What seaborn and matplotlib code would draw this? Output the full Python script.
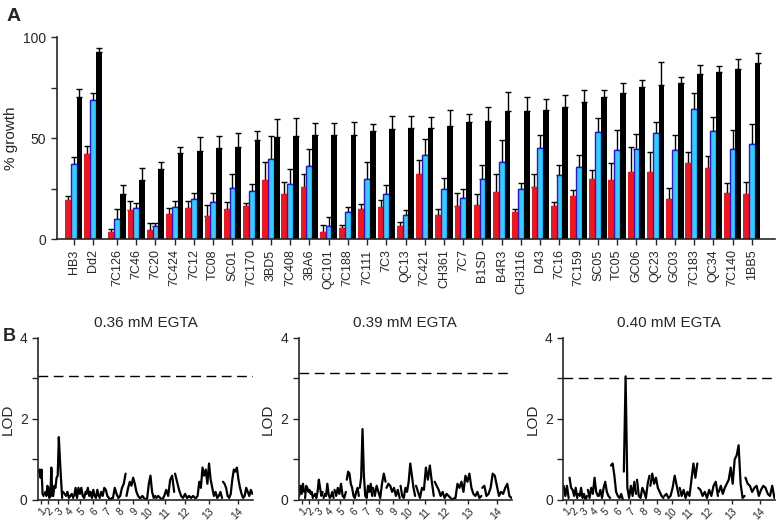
import matplotlib
matplotlib.use("Agg")
import matplotlib.pyplot as plt
import seaborn as sns
import pandas as pd
import numpy as np

sns.set_style("ticks")
plt.rcParams["font.family"] = ["Liberation Sans", "DejaVu Sans"]

# ---- Panel A data: % growth at three EGTA levels ----
strains = ["HB3", "Dd2", "7C126", "7C46", "7C20", "7C424", "7C12", "TC08", "SC01",
           "7C170", "3BD5", "7C408", "3BA6", "QC101", "7C188", "7C111", "7C3", "QC13",
           "7C421", "CH361", "7C7", "B1SD", "B4R3", "CH3116", "D43", "7C16", "7C159",
           "SC05", "TC05", "GC06", "QC23", "GC03", "7C183", "QC34", "7C140", "1BB5"]
red = [19.3, 41.9, 3.6, 14.4, 4.5, 12.4, 15.5, 11.4, 14.7, 16.3, 29.2, 22.1, 25.6, 3.5,
       5.6, 14.7, 15.7, 6.4, 32.2, 12.0, 16.2, 16.8, 23.3, 13.5, 25.7, 16.3, 21.1, 29.7,
       29.2, 33.0, 33.2, 20.0, 37.5, 35.0, 22.6, 22.3]
red_err = [2.0, 4.1, 1.2, 4.4, 3.3, 2.8, 3.5, 5.4, 3.6, 1.7, 9.1, 6.3, 6.6, 3.4, 1.2, 2.6,
           3.6, 1.9, 6.9, 2.7, 6.4, 5.5, 8.7, 1.5, 6.3, 2.0, 3.3, 4.5, 8.3, 12.7, 10.0,
           5.1, 5.6, 6.3, 5.0, 6.1]
blue = [37.1, 68.8, 9.7, 15.2, 6.4, 16.0, 19.6, 18.3, 25.4, 23.9, 39.4, 27.1, 36.3, 6.4,
        13.4, 29.7, 22.1, 11.7, 41.4, 24.6, 20.3, 29.7, 38.1, 24.6, 44.9, 31.5, 35.8,
        52.8, 44.1, 44.7, 52.3, 43.9, 64.2, 53.5, 44.7, 46.9]
blue_err = [3.7, 3.6, 5.0, 2.8, 1.7, 2.8, 3.0, 4.3, 6.8, 3.2, 11.6, 7.6, 8.4, 4.3, 2.6,
            8.6, 4.6, 2.7, 8.3, 5.4, 4.6, 7.1, 10.7, 3.0, 6.4, 5.3, 5.8, 7.3, 9.9, 7.3,
            5.6, 7.8, 8.1, 6.9, 9.1, 9.9]
black = [70.5, 92.4, 22.3, 29.2, 34.7, 42.7, 43.6, 45.0, 45.7, 49.2, 50.7, 51.0, 51.3,
         51.3, 51.3, 53.3, 54.5, 55.0, 55.1, 55.9, 58.1, 58.6, 63.4, 63.5, 63.7, 65.2,
         67.8, 70.1, 72.1, 75.1, 76.1, 77.1, 81.7, 82.7, 84.3, 87.3]
black_err = [3.6, 2.3, 4.4, 6.1, 3.6, 3.0, 7.1, 6.0, 6.6, 4.4, 8.9, 8.9, 6.1, 6.1, 6.5,
             3.6, 6.4, 5.7, 5.3, 8.0, 3.9, 6.7, 9.5, 7.0, 5.9, 5.9, 5.8, 3.8, 5.3, 3.6,
             11.4, 3.3, 4.4, 3.1, 5.0, 4.6]

# ---- Panel B data: LOD scans per chromosome ----
chrom_len_mb = [0.64, 0.95, 1.07, 1.20, 1.34, 1.42, 1.45, 1.47, 1.54, 1.69, 2.04, 2.27, 2.93, 3.29]
egta_titles = ["0.36 mM EGTA", "0.39 mM EGTA", "0.40 mM EGTA"]
thresholds = [3.06, 3.13, 3.02]

lod_036 = [
    [0.7, 0.75, 0.55, 0.75, 0.15, 0.1],
    [0.15, 0.2, 0.1, 0.35, 0.3, 0.05, 0.1, 0.8, 0.1],
    [0.1, 0.35, 0.3, 0.55, 0.6, 1.55, 1.0, 0.5, 0.05],
    [0.2, 0.15, 0.1, 0.2, 0.05, 0.1, 0.15, 0.05],
    [0.1, 0.3, 0.05, 0.3, 0.15, 0.3, 0.1, 0.05, 0.2],
    [0.15, 0.3, 0.1, 0.2, 0.05, 0.25, 0.1, 0.05, 0.25, 0.1],
    [0.05, 0.2, 0.1, 0.3, 0.25, 0.1, 0.05, 0.0, 0.05],
    [0.05, 0.3, 0.15, 0.05, 0.1, 0.3, 0.4, 0.65],
    [0.1, 0.3, 0.45, 0.35, 0.55, 0.4, 0.2, 0.1, 0.05],
    [0.05, 0.1, 0.05, 0.0, 0.05, 0.4, 0.6, 0.2, 0.05, 0.1],
    [0.05, 0.1, 0.05, 0.0, 0.1, 0.25, 0.1, 0.5, 0.6, 0.2],
    [0.65, 0.45, 0.25, 0.1, 0.05, 0.15, 0.05, 0.1, 0.05, 0.1, 0.05],
    [0.05, 0.1, 0.45, 0.3, 0.8, 0.6, 0.75, 0.4, 0.9, 0.5, 0.3, 0.1, 0.2, 0.05, 0.1, 0.2, 0.05],
    [0.45, 0.4, 0.3, 0.1, 0.05, 0.15, 0.5, 0.75, 0.7, 0.8, 0.5, 0.3, 0.15, 0.05, 0.1, 0.3,
     0.2, 0.1, 0.25, 0.15],
]
lod_039 = [
    [0.1, 0.35, 0.15, 0.4, 0.2],
    [0.05, 0.35, 0.3, 0.2, 0.25, 0.15, 0.2, 0.05],
    [0.1, 0.15, 0.05, 0.2, 0.5, 0.3, 0.1, 0.2],
    [0.05, 0.15, 0.1, 0.4, 0.15, 0.05, 0.1, 0.2, 0.05],
    [0.25, 0.1, 0.3, 0.15, 0.4, 0.1, 0.05, 0.2],
    [0.5, 0.7, 0.65, 0.4, 0.3, 0.1, 0.05, 0.2, 0.3, 0.1],
    [0.3, 0.55, 1.75, 0.6, 0.1, 0.05, 0.35, 0.2, 0.4, 0.1],
    [0.3, 0.1, 0.35, 0.2, 0.05, 0.4, 0.65, 0.45],
    [0.3, 0.4, 0.35, 0.2, 0.3, 0.1, 0.25, 0.05],
    [0.35, 0.1, 0.05, 0.3, 0.2, 0.45, 0.9, 0.6, 0.3, 0.1],
    [0.35, 0.2, 0.05, 0.3, 0.25, 0.8, 0.5, 0.85, 0.45, 0.1],
    [0.45, 0.35, 0.25, 0.1, 0.2, 0.05, 0.15, 0.1, 0.05, 0.0, 0.05],
    [0.05, 0.4, 0.3, 0.45, 0.2, 0.6, 0.45, 0.65, 0.3, 0.15, 0.1, 0.2, 0.05, 0.1],
    [0.3, 0.35, 0.1, 0.15, 0.3, 0.65, 0.6, 0.35, 0.1, 0.2, 0.15, 0.3, 0.4, 0.1, 0.05],
]
lod_040 = [
    [0.35, 0.1, 0.35, 0.05],
    [0.55, 0.3, 0.25, 0.1, 0.3, 0.05],
    [0.15, 0.1, 0.3, 0.05, 0.15, 0.0, 0.1],
    [0.25, 0.05, 0.3, 0.15, 0.55, 0.2, 0.1],
    [0.1, 0.25, 0.05, 0.3, 0.45, 0.2, 0.1, 0.05],
    [0.85, 0.9, 0.6, 0.2, 0.1, 0.05, 0.15, 0.0],
    [0.7, 3.05, 0.3, 0.05, 0.35, 0.1, 0.45, 0.15],
    [0.5, 0.1, 0.05, 0.3, 0.2, 0.05, 0.4, 0.6],
    [0.35, 0.65, 0.4, 0.55, 0.3, 0.2, 0.1, 0.05],
    [0.1, 0.15, 0.05, 0.1, 0.3, 0.6, 0.35, 0.1],
    [0.3, 0.1, 0.25, 0.05, 0.2, 0.1, 0.5, 0.9, 0.55, 0.9],
    [0.3, 0.25, 0.1, 0.2, 0.05, 0.25, 0.1, 0.35, 0.45, 0.1],
    [0.2, 0.35, 0.15, 0.3, 0.4, 0.5, 0.8, 0.4, 1.0, 1.1, 1.35, 0.4, 0.05, 0.1],
    [0.55, 0.4, 0.35, 0.2, 0.3, 0.35, 0.1, 0.25, 0.35, 0.3, 0.15, 0.1, 0.35, 0.05],
]

fig = plt.figure(figsize=(7.78, 5.23), dpi=100)

# ---- Panel A ----
axA = fig.add_axes([0.073, 0.543, 0.923, 0.386])
x = np.array([0, 1] + [2.25 + i for i in range(len(strains) - 2)])
w = 0.3
err_kw = dict(elinewidth=1.0, capthick=1.0, ecolor="black")
axA.bar(x - w, red, w, color="#f5141e", edgecolor="none", zorder=2)
axA.errorbar(x - w, red, yerr=[np.zeros(len(red)), red_err], fmt="none", capsize=2.5,
             zorder=1, **err_kw)
axA.bar(x, blue, w, color="#2fd0ff", edgecolor="#1a1ae0", linewidth=1.0, zorder=2)
axA.errorbar(x, blue, yerr=[np.zeros(len(blue)), blue_err], fmt="none", capsize=2.5,
             zorder=1, **err_kw)
axA.bar(x + w, black, w, color="black", edgecolor="none", zorder=2)
axA.errorbar(x + w, black, yerr=[np.zeros(len(black)), black_err], fmt="none",
             capsize=2.5, zorder=1, **err_kw)

axA.set_xlim(-0.88, 36.45)
axA.set_ylim(0, 100)
axA.set_yticks([0, 25, 50, 75, 100])
axA.set_yticklabels(["0", "", "50", "", "100"], fontsize=10)
axA.set_xticks(x)
axA.set_xticklabels(strains, rotation=90, fontsize=9)
axA.tick_params(axis="both", length=4, width=1)
axA.set_ylabel("% growth", fontsize=11)
sns.despine(ax=axA)
for s in ["left", "bottom"]:
    axA.spines[s].set_linewidth(1.2)

# ---- Panel B ----
starts = np.concatenate([[0], np.cumsum(chrom_len_mb)[:-1]])
ends = np.cumsum(chrom_len_mb)
centers = (starts + ends) / 2

lefts = [0.049, 0.384, 0.724]
widths = [0.276, 0.274, 0.272]
for k, scan in enumerate([lod_036, lod_039, lod_040]):
    ax = fig.add_axes([lefts[k], 0.044, widths[k], 0.310])
    rows = []
    for c, vals in enumerate(scan):
        pos = np.linspace(starts[c] + 0.05, ends[c] - 0.05, len(vals))
        for p, v in zip(pos, vals):
            rows.append({"chrom": c + 1, "pos": p, "lod": v})
    df = pd.DataFrame(rows)
    sns.lineplot(data=df, x="pos", y="lod", units="chrom", estimator=None,
                 color="black", linewidth=1.6, ax=ax)
    ax.axhline(thresholds[k], color="black", linestyle=(0, (7, 4)), linewidth=1.0)
    ax.set_xlim(0, ends[-1])
    ax.set_ylim(0, 4)
    ax.set_yticks([0, 1, 2, 3, 4])
    ax.set_yticklabels(["0", "", "2", "", "4"], fontsize=10)
    ax.set_xticks(centers)
    ax.set_xticklabels([str(i) for i in range(1, 15)], rotation=45, fontsize=7.5,
                       ha="right", va="top", rotation_mode="anchor")
    ax.tick_params(axis="x", length=3, width=1, pad=1.5)
    ax.tick_params(axis="y", length=4, width=1)
    ax.set_xlabel("")
    ax.set_ylabel("LOD", fontsize=11)
    ax.set_title(egta_titles[k], fontsize=11, pad=8)
    sns.despine(ax=ax)
    for s in ["left", "bottom"]:
        ax.spines[s].set_linewidth(1.2)

fig.text(0.008, 0.985, "A", fontsize=14, fontweight="bold", va="top")
fig.text(0.003, 0.372, "B", fontsize=13, fontweight="bold", va="top")

fig.savefig("out.png", dpi=100)
